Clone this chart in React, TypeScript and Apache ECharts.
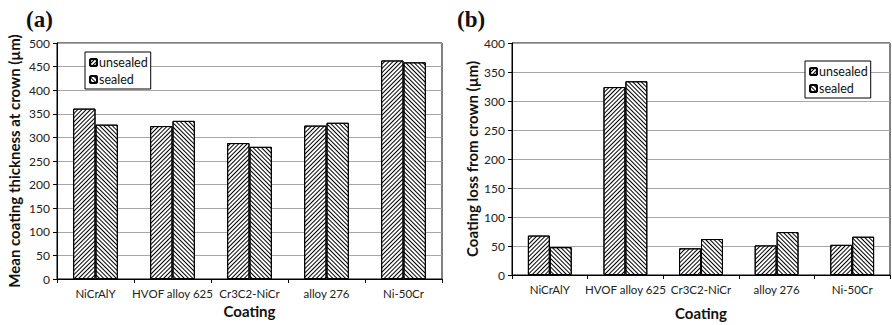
import React, { useEffect, useRef } from "react";
import * as echarts from "echarts";

const categories = ["NiCrAlY", "HVOF alloy 625", "Cr3C2-NiCr", "alloy 276", "Ni-50Cr"];
const thicknessUnsealed = [361, 324, 288, 325, 463];
const thicknessSealed = [327, 335, 280, 331, 459];
const lossUnsealed = [68, 324, 46, 51, 52];
const lossSealed = [48, 334, 62, 74, 66];
const seriesNames = ["unsealed", "sealed"];

const FONT = "Lato, 'Open Sans', sans-serif";

const decalUp = {
  symbol: "rect",
  symbolSize: 1,
  dashArrayX: [1, 0],
  dashArrayY: [1, 1.5],
  rotation: -Math.PI / 4,
  color: "#000",
  backgroundColor: "#fff",
};
const decalDown = { ...decalUp, rotation: Math.PI / 4 };

function yAxisCfg(gridIndex: number, max: number, name: string, nameGap: number) {
  return {
    type: "value",
    gridIndex,
    min: 0,
    max,
    interval: 50,
    name,
    nameLocation: "middle",
    nameGap,
    nameTextStyle: { fontFamily: FONT, fontWeight: "bold", fontSize: 15, color: "#111" },
    axisLine: { show: true, lineStyle: { color: "#000", width: 1 } },
    axisTick: { show: true, length: 4, lineStyle: { color: "#000" } },
    axisLabel: { fontFamily: FONT, fontSize: 12, color: "#222", margin: 7 },
    splitLine: { show: true, lineStyle: { color: "#a6a6a6", width: 1.2 } },
  };
}

function xAxisCfg(gridIndex: number, nameGap: number) {
  return {
    type: "category",
    gridIndex,
    data: categories,
    name: "Coating",
    nameLocation: "middle",
    nameGap,
    nameTextStyle: { fontFamily: FONT, fontWeight: "bold", fontSize: 15, color: "#111" },
    axisLine: { show: true, lineStyle: { color: "#000", width: 1 } },
    axisTick: { show: true, length: 4, alignWithLabel: false, lineStyle: { color: "#000" } },
    axisLabel: { fontFamily: FONT, fontSize: 11.5, color: "#222", margin: 8, interval: 0 },
    splitLine: { show: false },
  };
}

function barSeries(name: string, data: number[], idx: number, decal: any) {
  return {
    type: "bar",
    name,
    data,
    xAxisIndex: idx,
    yAxisIndex: idx,
    barGap: "0%",
    barCategoryGap: "42%",
    itemStyle: { color: "#fff", borderColor: "#000", borderWidth: 1, decal },
    emphasis: { disabled: true },
  };
}

function legendCfg(left: number, top: number) {
  return {
    data: seriesNames,
    orient: "vertical",
    left,
    top,
    itemWidth: 7,
    itemHeight: 7,
    itemGap: 4,
    padding: [4, 3, 3, 4],
    borderColor: "#000",
    borderWidth: 1,
    backgroundColor: "#fff",
    textStyle: { fontFamily: FONT, fontSize: 12.5, color: "#111", padding: [0, 0, 0, -3] },
    selectedMode: false,
  };
}

export default function App() {
  const ref = useRef<HTMLDivElement>(null);
  useEffect(() => {
    if (!ref.current) return;
    const chart = echarts.init(ref.current, null, { renderer: "svg" });
    chart.setOption({
      animation: false,
      backgroundColor: "#fff",
      grid: [
        { left: 57, right: 450, top: 43, bottom: 46, show: true, borderColor: "#000", borderWidth: 1 },
        { left: 512, right: 2, top: 43, bottom: 46, show: true, borderColor: "#000", borderWidth: 1 },
      ],
      xAxis: [xAxisCfg(0, 24), xAxisCfg(1, 30)],
      yAxis: [
        yAxisCfg(0, 500, "Mean coating thickness at crown (µm)", 36),
        yAxisCfg(1, 400, "Coating loss from crown (µm)", 33),
      ],
      legend: [legendCfg(85, 52), legendCfg(805, 61)],
      series: [
        barSeries(seriesNames[0], thicknessUnsealed, 0, decalUp),
        barSeries(seriesNames[1], thicknessSealed, 0, decalDown),
        barSeries(seriesNames[0], lossUnsealed, 1, decalUp),
        barSeries(seriesNames[1], lossSealed, 1, decalDown),
      ],
      graphic: [
        { type: "text", left: 26, top: 8, style: { text: "(a)", font: "bold 23px 'Liberation Serif', serif", fill: "#111" } },
        { type: "text", left: 457, top: 8, style: { text: "(b)", font: "bold 23px 'Liberation Serif', serif", fill: "#111" } },
      ],
    });
    return () => chart.dispose();
  }, []);
  return (
    <div
      ref={ref}
      style={{ position: "fixed", left: 0, top: 0, width: 892, height: 325, background: "#fff" }}
    />
  );
}
